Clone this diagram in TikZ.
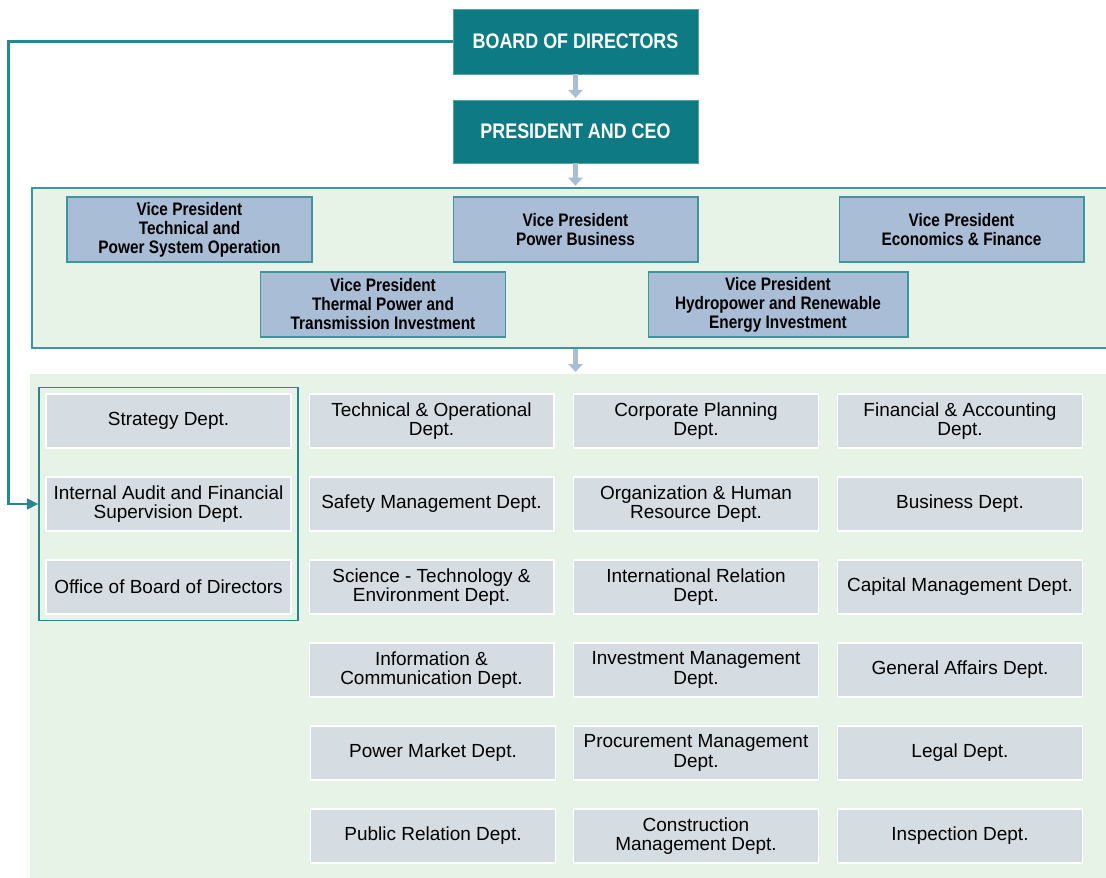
\documentclass[tikz,border=0pt]{standalone}
\usepackage{fontspec}
\setmainfont{Liberation Sans}
\newfontfamily\condfont[FakeStretch=0.85]{Liberation Sans}
\usetikzlibrary{arrows.meta,positioning,fit,backgrounds,calc}

\definecolor{evnteal}{HTML}{0E7A84}
\definecolor{vpblue}{HTML}{A9BDD7}
\definecolor{bandgreen}{HTML}{E8F3E8}
\definecolor{deptgray}{HTML}{D5DDE3}
\definecolor{arrblue}{HTML}{A9BDD6}

\begin{document}
\begin{tikzpicture}[
  x=0.02cm, y=-0.02cm,
  top/.style={rectangle, draw=evnteal!70, fill=evnteal, text=white, minimum width=4.9cm,
              minimum height=1.3cm, align=center, font=\condfont\bfseries\fontsize{12}{14}\selectfont},
  vp/.style={rectangle, draw=evnteal!80, line width=0.6pt, fill=vpblue, minimum width=4.9cm,
             minimum height=1.3cm, align=center, inner sep=1pt,
             font=\condfont\bfseries\fontsize{10.3}{10.8}\selectfont},
  dept/.style={rectangle, draw=white, line width=0.6pt, fill=deptgray, minimum width=4.9cm,
               minimum height=1.08cm, align=center, inner sep=1pt,
               font=\fontsize{10.8}{10.9}\selectfont},
  band/.style={rectangle, fill=bandgreen, inner sep=0pt},
  arr/.style={-{Triangle[width=8pt, length=4.5pt]}, line width=2.8pt, draw=arrblue, shorten >=1pt},
  fb/.style={-{Triangle[width=6pt, length=6.5pt]}, line width=1.5pt, draw=evnteal!90}
]
\useasboundingbox (0,0) rectangle (1106,878);

% top of the chart
\node[top] (board) at (575.5,41.5) {BOARD OF DIRECTORS};
\node[top, minimum height=1.26cm] (ceo) at (575.5,131.5) {PRESIDENT AND CEO};

% vice presidents
\node[band, draw=evnteal!80, line width=0.7pt, minimum width=21.56cm, minimum height=3.2cm] (vpband) at (571,268) {};
\node[vp] (vptech) at (189.5,229.5) {Vice President\\Technical and\\Power System Operation};
\node[vp] (vppower) at (575.5,229.5) {Vice President\\Power Business};
\node[vp] (vpecon) at (961.5,229.5) {Vice President\\Economics \& Finance};
\node[vp] (vpthermal) at (383,304.5) {Vice President\\Thermal Power and\\Transmission Investment};
\node[vp, minimum width=5.2cm] (vphydro) at (778,304.5) {Vice President\\Hydropower and Renewable\\Energy Investment};

% departments
\node[band, minimum width=21.6cm, minimum height=10.12cm] (deptband) at (570,627) {};

\node[dept] (strategy) at (168.5,421) {Strategy Dept.};
\node[dept] (audit) at (168.5,504) {Internal Audit and Financial\\Supervision Dept.};
\node[dept] (office) at (168.5,587) {Office of Board of Directors};
\node[draw=evnteal!90, line width=0.9pt, inner xsep=3.6pt, inner ysep=3.4pt, fit=(strategy)(audit)(office)] (boardgrp) {};

\node[dept] (techop) at (431.5,421) {Technical \& Operational\\Dept.};
\node[dept] (safety) at (431.5,504) {Safety Management Dept.};
\node[dept] (science) at (431.5,587) {Science - Technology \&\\Environment Dept.};
\node[dept] (ict) at (431.5,670) {Information \&\\Communication Dept.};
\node[dept] (market) at (433,753) {Power Market Dept.};
\node[dept] (pr) at (433,836) {Public Relation Dept.};

\node[dept] (planning) at (696,421) {Corporate Planning\\Dept.};
\node[dept] (hr) at (696,504) {Organization \& Human\\Resource Dept.};
\node[dept] (intl) at (696,587) {International Relation\\Dept.};
\node[dept] (invest) at (696,670) {Investment Management\\Dept.};
\node[dept] (procure) at (696,753) {Procurement Management\\Dept.};
\node[dept] (construct) at (696,836) {Construction\\Management Dept.};

\node[dept] (finance) at (960,421) {Financial \& Accounting\\Dept.};
\node[dept] (business) at (960,504) {Business Dept.};
\node[dept] (capital) at (960,587) {Capital Management Dept.};
\node[dept] (general) at (960,670) {General Affairs Dept.};
\node[dept] (legal) at (960,753) {Legal Dept.};
\node[dept] (inspect) at (960,836) {Inspection Dept.};

% reporting lines
\draw[arr] (board.south) -- (ceo.north);
\draw[arr] (ceo.south) -- (ceo.south |- vpband.north);
\draw[arr] (ceo.south |- vpband.south) -- (ceo.south |- deptband.north);
\draw[fb] (board.west) -- ++(-444,0) |- (boardgrp.west |- audit.west);

\end{tikzpicture}
\end{document}
